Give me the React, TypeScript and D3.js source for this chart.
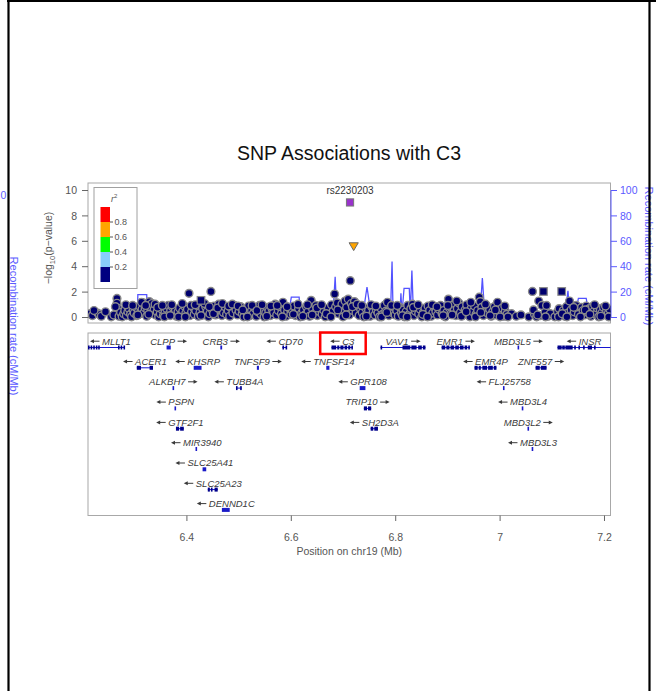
import React, { useEffect, useRef } from 'react';
import * as d3 from 'd3';

const TITLE = 'SNP Associations with C3';
const LEAD_NAME = 'rs2230203';
const X_TITLE = 'Position on chr19 (Mb)';
const RECOMB_TITLE = 'Recombination rate (cM/Mb)';
const xDomain: [number, number] = [6.2105, 7.2115];
const xTicks = [6.4, 6.6, 6.8, 7.0, 7.2];
const xTickLabels = ['6.4', '6.6', '6.8', '7', '7.2'];
const yTicks = [0, 2, 4, 6, 8, 10];
const recombTicks = [0, 20, 40, 60, 80, 100];
const r2Breaks = [0.2, 0.4, 0.6, 0.8];
const r2Colors = ['#000080', '#87CEFA', '#00FF00', '#FFA500', '#FF0000'];

// [position Mb, -log10 p]
const snps: [number, number][] = [
  [6.214,0.30],[6.219,0.15],[6.229,0.35],[6.232,0.25],[6.255,0.05],[6.260,0.20],[6.266,1.50],[6.266,1.12],[6.267,0.75],[6.270,0.10],[6.273,0.40],[6.276,0.05],[6.279,0.30],[6.281,0.55],[6.284,0.15],[6.287,0.45],[6.289,0.70],[6.292,0.25],[6.294,0.05],[6.297,0.60],[6.299,0.35],
  [6.302,0.80],[6.304,0.15],[6.307,0.45],[6.309,0.90],[6.311,0.30],[6.314,0.65],[6.316,1.15],[6.318,0.40],[6.320,0.75],[6.323,0.10],[6.325,0.55],[6.328,1.25],[6.330,0.85],[6.333,1.10],[6.335,0.35],[6.337,0.60],[6.340,0.20],[6.343,0.45],[6.346,0.05],[6.349,0.30],[6.352,0.65],[6.355,0.15],[6.358,0.40],[6.361,0.70],[6.364,0.95],[6.366,0.25],[6.369,0.55],[6.372,0.85],[6.375,0.30],[6.378,0.60],[6.380,0.10],[6.383,0.45],[6.386,0.75],[6.389,0.20],[6.392,0.50],[6.395,0.90],[6.398,0.35],
  [6.401,0.65],[6.404,1.90],[6.406,0.15],[6.409,0.45],[6.412,0.80],[6.414,0.25],[6.417,0.55],[6.420,0.95],[6.422,0.10],[6.425,0.40],[6.430,0.70],[6.433,0.20],[6.436,0.85],[6.439,0.50],[6.441,0.05],[6.444,0.30],[6.446,2.05],[6.449,0.60],[6.452,0.90],[6.455,0.20],[6.458,0.45],[6.461,1.05],[6.464,0.70],[6.467,0.15],[6.470,0.40],[6.473,0.85],[6.476,0.25],[6.479,0.55],[6.482,0.10],[6.485,0.75],[6.488,0.35],[6.491,0.95],[6.494,0.60],[6.497,0.20],
  [6.500,0.50],[6.503,0.85],[6.506,0.30],[6.509,0.05],[6.512,0.65],[6.515,0.40],[6.518,0.90],[6.521,0.15],[6.524,0.55],[6.527,0.30],[6.530,0.75],[6.533,0.10],[6.536,0.45],[6.539,0.95],[6.542,0.25],[6.545,0.60],[6.548,0.05],[6.551,0.35],[6.554,0.80],[6.557,0.50],[6.560,0.15],[6.563,0.70],[6.566,0.40],[6.569,1.05],[6.572,0.20],[6.575,0.55],[6.578,0.85],[6.581,0.30],[6.584,1.20],[6.587,0.60],[6.590,0.10],[6.593,0.45],[6.596,0.75],[6.599,0.25],
  [6.602,0.55],[6.605,0.90],[6.608,0.15],[6.611,0.40],[6.614,0.70],[6.617,0.05],[6.620,0.35],[6.623,0.60],[6.626,0.20],[6.629,0.85],[6.632,0.45],[6.635,0.10],[6.638,1.35],[6.641,0.65],[6.644,0.30],[6.647,0.95],[6.650,0.15],[6.653,0.50],[6.656,0.80],[6.659,0.25],[6.662,0.60],[6.665,0.05],[6.668,0.40],[6.671,0.75],[6.674,0.20],[6.677,1.00],[6.680,0.50],[6.683,1.85],[6.685,0.85],[6.688,1.15],[6.691,0.30],[6.694,0.65],[6.697,1.05],
  [6.700,0.40],[6.703,1.30],[6.706,0.80],[6.709,1.45],[6.711,0.20],[6.713,2.90],[6.715,1.10],[6.718,0.55],[6.721,1.25],[6.724,0.35],[6.727,0.90],[6.730,0.15],[6.733,0.65],[6.736,0.40],[6.739,0.05],[6.742,0.75],[6.745,0.30],[6.748,0.55],[6.751,0.10],[6.754,0.85],[6.757,0.45],[6.760,0.20],[6.763,0.60],[6.766,0.35],[6.769,0.05],[6.772,0.70],[6.775,0.25],[6.778,0.95],[6.781,0.50],[6.784,1.20],[6.787,0.15],[6.790,0.65],[6.793,0.40],[6.796,0.85],[6.799,0.20],
  [6.802,0.55],[6.805,0.10],[6.808,0.80],[6.811,0.35],[6.814,0.60],[6.817,0.05],[6.820,0.45],[6.823,0.95],[6.826,0.25],[6.829,0.70],[6.832,1.05],[6.835,0.15],[6.838,0.50],[6.841,0.85],[6.844,0.30],[6.847,0.65],[6.850,0.05],[6.853,0.40],[6.856,0.75],[6.859,0.20],[6.862,0.90],[6.865,0.55],[6.868,0.10],[6.871,0.35],[6.874,0.80],[6.877,0.45],[6.880,0.20],[6.883,0.65],[6.886,0.95],[6.889,0.30],[6.892,0.55],[6.895,0.05],[6.898,0.40],
  [6.901,1.45],[6.903,0.75],[6.906,0.30],[6.909,0.95],[6.912,0.55],[6.915,0.15],[6.918,0.70],[6.921,1.15],[6.924,0.40],[6.927,0.85],[6.930,0.20],[6.933,0.60],[6.936,1.00],[6.939,0.35],[6.942,0.05],[6.945,0.75],[6.948,0.45],[6.951,0.90],[6.954,0.25],[6.957,0.55],[6.960,1.60],[6.962,1.25],[6.965,0.80],[6.968,0.15],[6.971,0.50],[6.974,0.95],[6.977,0.30],[6.980,0.65],[6.983,0.10],[6.986,0.45],[6.989,0.85],[6.992,0.20],[6.995,1.20],[6.998,0.55],[7.001,0.35],[7.004,0.75],[7.007,0.10],[7.010,0.50],[7.013,0.25],
  [7.022,0.30],[7.031,0.10],[7.040,0.20],[7.055,0.05],[7.062,2.05],[7.066,0.25],[7.070,0.05],[7.074,1.30],[7.077,0.15],[7.080,0.95],[7.086,0.40],[7.089,0.95],[7.092,0.10],[7.096,0.30],[7.105,0.05],[7.110,0.45],[7.113,0.70],[7.116,0.20],[7.121,0.55],[7.124,0.10],[7.127,0.85],[7.130,0.35],[7.133,1.30],[7.136,0.60],[7.139,0.15],[7.142,0.45],[7.146,0.95],[7.150,0.25],[7.156,0.80],[7.159,0.55],[7.162,0.20],[7.165,0.90],[7.168,0.40],[7.171,0.70],[7.174,0.10],[7.177,0.85],[7.180,0.50],[7.183,0.25],[7.186,0.75],[7.189,0.05],[7.192,0.60],[7.195,0.35],[7.198,0.80],[7.201,0.20],[7.204,0.55],[7.207,0.30],[7.210,0.65],
  [6.222,0.55],[6.236,0.10],[6.244,0.45],[6.263,0.85],[6.283,1.00],[6.296,0.95],[6.306,0.20],[6.313,1.20],[6.321,0.95],[6.327,0.25],[6.339,1.05],[6.344,0.80],[6.353,0.95],[6.357,0.05],[6.368,0.15],[6.371,1.00],[6.384,0.05],[6.391,1.10],[6.397,0.05],[6.408,0.95],[6.416,1.00],[6.427,0.15],[6.434,1.10],[6.443,0.85],[6.451,0.30],[6.459,0.75],[6.468,1.10],[6.480,0.90],[6.487,1.05],[6.498,0.90],[6.507,0.60],[6.516,0.05],[6.525,0.95],[6.534,0.55],[6.544,1.00],[6.553,0.10],[6.561,0.90],[6.573,0.95],[6.583,0.05],[6.592,0.85],[6.604,0.25],[6.613,1.05],[6.622,0.10],[6.631,1.00],[6.640,0.20],[6.649,0.75],[6.658,1.00],[6.667,0.30],[6.676,0.05],[6.689,0.60],[6.699,0.05],[6.705,0.20],[6.717,0.85],[6.726,1.05],[6.735,0.95],[6.744,0.10],[6.753,1.00],[6.762,0.90],[6.773,0.05],[6.783,0.40],[6.792,0.95],[6.803,0.95],[6.813,0.15],[6.822,0.05],[6.834,0.80],[6.843,1.00],[6.852,0.25],[6.861,0.05],[6.870,1.00],[6.879,0.85],[6.891,0.15],[6.900,0.95],[6.908,0.20],[6.917,1.30],[6.926,0.10],[6.935,0.45],[6.944,1.20],[6.953,0.05],[6.963,0.40],[6.972,1.05],[6.981,0.15],[6.991,0.60],[7.000,0.05],[7.009,0.90],[7.015,0.05],[7.064,0.60],[7.072,0.20],[7.087,0.05],[7.112,0.05],[7.119,0.30],[7.128,0.05],[7.141,0.80],[7.154,0.05],[7.163,0.60],[7.172,0.25],[7.181,1.00],[7.193,0.10],[7.202,0.90],[7.208,0.05],
];
const squareSnps: [number, number][] = [[6.427, 1.35], [7.083, 2.05], [7.118, 2.05]];
const leadSnp: [number, number] = [6.7125, 9.06];
const orangeSnp: [number, number] = [6.7195, 5.6];

// [position Mb, recombination rate cM/Mb]
const recomb: [number, number][] = [
  [6.2105,2],[6.230,2.5],[6.250,2],[6.262,3],[6.265,7],[6.268,3],[6.290,2],[6.300,2],[6.305,3],[6.306,18],[6.323,18],[6.324,3],[6.340,2],[6.346,3],[6.348,8],[6.350,3],[6.370,2],[6.400,2],[6.425,2],[6.429,9],[6.433,3],[6.450,2],[6.452,8],[6.456,3],[6.473,3],[6.474,11],[6.486,11],[6.487,3],[6.520,2],[6.560,2],[6.565,11],[6.570,11],[6.572,2],[6.595,3],[6.600,16],[6.615,16],[6.617,3],[6.640,2],[6.670,2],[6.680,4],[6.684,32],[6.687,4],[6.700,3],[6.720,2],[6.735,5],[6.740,10],[6.745,24],[6.750,10],[6.755,3],[6.770,2],[6.790,3],[6.793,44],[6.795,3],[6.808,3],[6.810,19],[6.812,3],[6.816,23],[6.826,23],[6.828,3],[6.831,37],[6.834,3],[6.850,4],[6.880,3],[6.892,4],[6.895,13],[6.898,4],[6.920,5],[6.945,3],[6.962,6],[6.966,31],[6.970,6],[6.990,8],[6.995,3],[7.000,2],[7.050,2],[7.110,2],[7.125,3],[7.130,21],[7.133,4],[7.145,5],[7.150,15],[7.165,15],[7.169,5],[7.190,4],[7.2115,3],
];

interface Gene { name: string; start: number; end: number; strand: number; row: number; exons?: [number, number][]; }
const genes: Gene[] = [
  { name: 'MLLT1', start: 6.2105, end: 6.281, strand: -1, row: 0, exons: [[6.2105,6.2135],[6.2155,6.2185],[6.2205,6.2235],[6.2255,6.2285],[6.230,6.233],[6.268,6.271],[6.273,6.275],[6.2785,6.281]] },
  { name: 'CLPP', start: 6.361, end: 6.369, strand: 1, row: 0 },
  { name: 'CRB3', start: 6.464, end: 6.4675, strand: 1, row: 0 },
  { name: 'CD70', start: 6.583, end: 6.591, strand: -1, row: 0, exons: [[6.583,6.585],[6.589,6.591]] },
  { name: 'C3', start: 6.677, end: 6.718, strand: -1, row: 0, exons: [[6.677,6.686],[6.688,6.692],[6.694,6.700],[6.702,6.707],[6.709,6.713],[6.715,6.718]] },
  { name: 'VAV1', start: 6.771, end: 6.857, strand: 1, row: 0, exons: [[6.771,6.773],[6.813,6.828],[6.830,6.840],[6.843,6.850],[6.852,6.857]] },
  { name: 'EMR1', start: 6.888, end: 6.942, strand: 1, row: 0, exons: [[6.888,6.895],[6.897,6.903],[6.905,6.912],[6.914,6.921],[6.923,6.930],[6.932,6.937],[6.939,6.942]] },
  { name: 'MBD3L5', start: 7.034, end: 7.036, strand: 1, row: 0 },
  { name: 'INSR', start: 7.110, end: 7.294, strand: -1, row: 0, exons: [[7.110,7.118],[7.119,7.124],[7.125,7.139],[7.142,7.145],[7.150,7.153],[7.159,7.162],[7.168,7.176],[7.180,7.182]] },
  { name: 'ACER1', start: 6.304, end: 6.335, strand: -1, row: 1, exons: [[6.304,6.312],[6.3285,6.335]] },
  { name: 'KHSRP', start: 6.413, end: 6.428, strand: -1, row: 1 },
  { name: 'TNFSF9', start: 6.534, end: 6.538, strand: 1, row: 1 },
  { name: 'TNFSF14', start: 6.667, end: 6.673, strand: -1, row: 1 },
  { name: 'EMR4P', start: 6.951, end: 6.993, strand: -1, row: 1, exons: [[6.951,6.957],[6.959,6.963],[6.966,6.975],[6.977,6.986],[6.988,6.993]] },
  { name: 'ZNF557', start: 7.068, end: 7.089, strand: 1, row: 1, exons: [[7.068,7.076],[7.078,7.089]] },
  { name: 'ALKBH7', start: 6.373, end: 6.375, strand: 1, row: 2 },
  { name: 'TUBB4A', start: 6.494, end: 6.505, strand: -1, row: 2, exons: [[6.494,6.497],[6.502,6.505]] },
  { name: 'GPR108', start: 6.731, end: 6.742, strand: -1, row: 2 },
  { name: 'FLJ25758', start: 7.006, end: 7.008, strand: -1, row: 2 },
  { name: 'PSPN', start: 6.377, end: 6.3785, strand: -1, row: 3 },
  { name: 'TRIP10', start: 6.739, end: 6.753, strand: 1, row: 3, exons: [[6.739,6.745],[6.747,6.753]] },
  { name: 'MBD3L4', start: 7.042, end: 7.044, strand: -1, row: 3 },
  { name: 'GTF2F1', start: 6.379, end: 6.394, strand: -1, row: 4, exons: [[6.379,6.385],[6.387,6.394]] },
  { name: 'SH2D3A', start: 6.752, end: 6.766, strand: -1, row: 4, exons: [[6.752,6.757],[6.759,6.766]] },
  { name: 'MBD3L2', start: 7.053, end: 7.055, strand: 1, row: 4 },
  { name: 'MIR3940', start: 6.4175, end: 6.4185, strand: -1, row: 5 },
  { name: 'MBD3L3', start: 7.061, end: 7.063, strand: -1, row: 5 },
  { name: 'SLC25A41', start: 6.430, end: 6.437, strand: -1, row: 6 },
  { name: 'SLC25A23', start: 6.440, end: 6.459, strand: -1, row: 7, exons: [[6.440,6.444],[6.446,6.448],[6.453,6.459]] },
  { name: 'DENND1C', start: 6.467, end: 6.482, strand: -1, row: 8 },
];
const HIGHLIGHT_GENE = 'C3';

const FONT = '"Liberation Sans", Arial, Helvetica, sans-serif';

export default function App() {
  const ref = useRef<SVGSVGElement | null>(null);

  useEffect(() => {
    const svg = d3.select(ref.current!);
    svg.selectAll('*').remove();

    const pL = 88, pR = 610.5;
    const top1 = 183, bot1 = 323;
    const top2 = 333, bot2 = 515.5;

    const x = d3.scaleLinear().domain(xDomain).range([pL, pR]);
    const y = d3.scaleLinear().domain([0, 10]).range([317.5, 190.5]);
    const yR = d3.scaleLinear().domain([0, 100]).range([317.5, 190.5]);

    const axisGray = '#666';
    const textGray = '#555';
    const blue = '#5a5aff';

    const defs = svg.append('defs');
    defs.append('clipPath').attr('id', 'clipTop').append('rect')
      .attr('x', pL).attr('y', top1).attr('width', pR - pL).attr('height', bot1 - top1);
    defs.append('clipPath').attr('id', 'clipGenes').append('rect')
      .attr('x', pL).attr('y', top2).attr('width', pR - pL).attr('height', bot2 - top2);

    // Title
    svg.append('text').attr('x', 349).attr('y', 160).attr('text-anchor', 'middle')
      .attr('font-size', 19.5).attr('fill', '#111').text(TITLE);

    // Top panel box
    svg.append('rect').attr('x', pL).attr('y', top1).attr('width', pR - pL).attr('height', bot1 - top1)
      .attr('fill', 'white').attr('stroke', '#a8a8a8').attr('stroke-width', 1);

    // Left axis
    const yl = svg.append('g');
    yTicks.forEach(t => {
      yl.append('line').attr('x1', 82).attr('x2', pL).attr('y1', y(t)).attr('y2', y(t)).attr('stroke', axisGray);
      yl.append('text').attr('x', 77).attr('y', y(t)).attr('dy', '0.35em').attr('text-anchor', 'end')
        .attr('font-size', 10.5).attr('fill', textGray).text(String(t));
    });
    const ylab = svg.append('text').attr('transform', 'translate(52,248) rotate(-90)')
      .attr('text-anchor', 'middle').attr('font-size', 10.5).attr('fill', textGray);
    ylab.append('tspan').text('\u2212log');
    ylab.append('tspan').attr('font-size', 7.5).attr('dy', 2.5).text('10');
    ylab.append('tspan').attr('dy', -2.5).text('(p\u2212value)');

    // Right axis
    const yr = svg.append('g');
    yr.append('line').attr('x1', pR + 0.5).attr('x2', pR + 0.5).attr('y1', yR(0)).attr('y2', yR(100)).attr('stroke', blue);
    recombTicks.forEach(t => {
      yr.append('line').attr('x1', pR + 0.5).attr('x2', pR + 6.5).attr('y1', yR(t)).attr('y2', yR(t)).attr('stroke', blue);
      yr.append('text').attr('x', 620).attr('y', yR(t)).attr('dy', '0.35em').attr('text-anchor', 'start')
        .attr('font-size', 10.5).attr('fill', blue).text(String(t));
    });
    svg.append('text').attr('transform', 'translate(644.5,256) rotate(90)').attr('text-anchor', 'middle')
      .attr('font-size', 11).attr('fill', blue).text(RECOMB_TITLE);

    // Recombination line
    const plot = svg.append('g').attr('clip-path', 'url(#clipTop)');
    const line = d3.line<[number, number]>().x(d => x(d[0])).y(d => yR(d[1]));
    plot.append('path').datum(recomb).attr('d', line).attr('fill', 'none')
      .attr('stroke', '#3f3fff').attr('stroke-width', 1.3).attr('stroke-opacity', 0.9);

    // SNPs
    plot.selectAll('circle.snp').data(snps).enter().append('circle')
      .attr('cx', d => x(d[0])).attr('cy', d => y(d[1])).attr('r', 3.9)
      .attr('fill', '#00006e').attr('stroke', '#8a8a8a').attr('stroke-width', 1.4);
    plot.selectAll('rect.sq').data(squareSnps).enter().append('rect')
      .attr('x', d => x(d[0]) - 3.8).attr('y', d => y(d[1]) - 3.8).attr('width', 7.6).attr('height', 7.6)
      .attr('fill', '#00006e').attr('stroke', '#8a8a8a').attr('stroke-width', 1.2);
    // orange triangle
    const ox = x(orangeSnp[0]), oy = y(orangeSnp[1]);
    plot.append('path').attr('d', `M${ox - 4.6},${oy - 3.6}L${ox + 4.6},${oy - 3.6}L${ox},${oy + 4.2}Z`)
      .attr('fill', r2Colors[3]).attr('stroke', '#6a6a6a').attr('stroke-width', 1);
    // lead SNP
    const lx = x(leadSnp[0]), ly = y(leadSnp[1]);
    plot.append('rect').attr('x', lx - 3.6).attr('y', ly - 3.6).attr('width', 7.2).attr('height', 7.2)
      .attr('fill', '#9932CC').attr('stroke', '#777').attr('stroke-width', 1);
    svg.append('text').attr('x', lx).attr('y', ly - 8).attr('text-anchor', 'middle')
      .attr('font-size', 10).attr('fill', '#333').text(LEAD_NAME);

    // Legend
    const lg = svg.append('g');
    lg.append('rect').attr('x', 94).attr('y', 187.5).attr('width', 43).attr('height', 101)
      .attr('fill', 'white').attr('stroke', '#a0a0a0');
    const cy0 = 282, ch = 15;
    r2Colors.forEach((c, i) => {
      lg.append('rect').attr('x', 100.5).attr('y', cy0 - (i + 1) * ch).attr('width', 9.5).attr('height', ch).attr('fill', c);
    });
    r2Breaks.forEach((b, i) => {
      const yy = cy0 - (i + 1) * ch;
      lg.append('line').attr('x1', 110).attr('x2', 113).attr('y1', yy).attr('y2', yy).attr('stroke', textGray);
      lg.append('text').attr('x', 114.5).attr('y', yy).attr('dy', '0.35em').attr('font-size', 9)
        .attr('fill', textGray).text(b.toFixed(1));
    });
    const rt = lg.append('text').attr('x', 111).attr('y', 202).attr('font-size', 9).attr('fill', textGray);
    rt.append('tspan').attr('font-style', 'italic').text('r');
    rt.append('tspan').attr('font-size', 6).attr('dy', -4).text('2');

    // Gene panel
    svg.append('rect').attr('x', pL).attr('y', top2).attr('width', pR - pL).attr('height', bot2 - top2)
      .attr('fill', 'white').attr('stroke', '#a8a8a8').attr('stroke-width', 1);
    const gg = svg.append('g');
    const gbars = svg.append('g').attr('clip-path', 'url(#clipGenes)');
    const rowBase = (r: number) => 344.5 + r * 20.3;
    genes.forEach(g => {
      const base = rowBase(g.row);
      const by = base + 3;
      const s = Math.max(g.start, xDomain[0]);
      const e = Math.min(g.end, xDomain[1]);
      if (g.exons) {
        gbars.append('line').attr('x1', x(g.start)).attr('x2', x(g.end)).attr('y1', by).attr('y2', by)
          .attr('stroke', '#1515d0').attr('stroke-width', 1);
        g.exons.forEach(ex => {
          const w = Math.max(1.6, x(ex[1]) - x(ex[0]));
          gbars.append('rect').attr('x', x(ex[0])).attr('y', by - 2).attr('width', w).attr('height', 4).attr('fill', '#00008B');
        });
      } else {
        const w = Math.max(1.6, x(g.end) - x(g.start));
        gbars.append('rect').attr('x', (x(g.start) + x(g.end)) / 2 - w / 2).attr('y', by - 2).attr('width', w).attr('height', 4).attr('fill', '#1a1ac8');
      }
      const cx = (x(s) + x(e)) / 2;
      const t = gg.append('text').attr('y', base).attr('font-size', 9.5).attr('font-style', 'italic')
        .attr('fill', '#3a3a3a').text(g.name);
      const tw = (t.node() as SVGTextElement).getComputedTextLength();
      const total = tw + 12;
      let left = cx - total / 2;
      left = Math.max(pL + 2, Math.min(pR - 2 - total, left));
      const ay = base - 3.3;
      let tail: number, tip: number;
      if (g.strand < 0) {
        tip = left; tail = left + 9.5;
        t.attr('x', left + 12);
      } else {
        t.attr('x', left);
        tail = left + tw + 2.5; tip = tail + 9.5;
      }
      const dir = g.strand < 0 ? 1 : -1;
      gg.append('line').attr('x1', tail).attr('x2', tip + dir * 2).attr('y1', ay).attr('y2', ay)
        .attr('stroke', '#3a3a3a').attr('stroke-width', 1);
      gg.append('path').attr('d', `M${tip},${ay}L${tip + dir * 4},${ay - 2}L${tip + dir * 4},${ay + 2}Z`)
        .attr('fill', '#3a3a3a');
      if (g.name === HIGHLIGHT_GENE) {
        gg.append('rect').attr('x', cx - 22).attr('y', top2 - 0.5).attr('width', 45.5).attr('height', 21.5)
          .attr('fill', 'none').attr('stroke', '#ff0000').attr('stroke-width', 2.5);
      }
    });

    // X axis
    const xa = svg.append('g');
    xTicks.forEach((t, i) => {
      xa.append('line').attr('x1', x(t)).attr('x2', x(t)).attr('y1', bot2).attr('y2', bot2 + 5.5).attr('stroke', axisGray);
      xa.append('text').attr('x', x(t)).attr('y', 537).attr('dy', '0.35em').attr('text-anchor', 'middle')
        .attr('font-size', 10.5).attr('fill', textGray).text(xTickLabels[i]);
    });
    svg.append('text').attr('x', (pL + pR) / 2).attr('y', 551).attr('dy', '0.35em').attr('text-anchor', 'middle')
      .attr('font-size', 10.5).attr('fill', textGray).text(X_TITLE);

    // Ghost of neighbouring page (clipped)
    svg.append('text').attr('x', 0.5).attr('y', 195).attr('dy', '0.35em').attr('font-size', 10.5).attr('fill', blue).text('0');
    svg.append('text').attr('transform', 'translate(9.5,326) rotate(90)').attr('text-anchor', 'middle')
      .attr('font-size', 11).attr('fill', blue).text(RECOMB_TITLE);

    // Page frame
    svg.append('line').attr('x1', 7).attr('x2', 656).attr('y1', 1).attr('y2', 1).attr('stroke', '#000').attr('stroke-width', 2);
    svg.append('line').attr('x1', 8.5).attr('x2', 8.5).attr('y1', 0).attr('y2', 691).attr('stroke', '#000').attr('stroke-width', 2.2);
    svg.append('line').attr('x1', 649.5).attr('x2', 649.5).attr('y1', 0).attr('y2', 691).attr('stroke', '#000').attr('stroke-width', 2.2);
  }, []);

  return (
    <svg ref={ref} width={656} height={691}
      style={{ position: 'absolute', left: 0, top: 0, background: 'white', fontFamily: FONT }} />
  );
}
